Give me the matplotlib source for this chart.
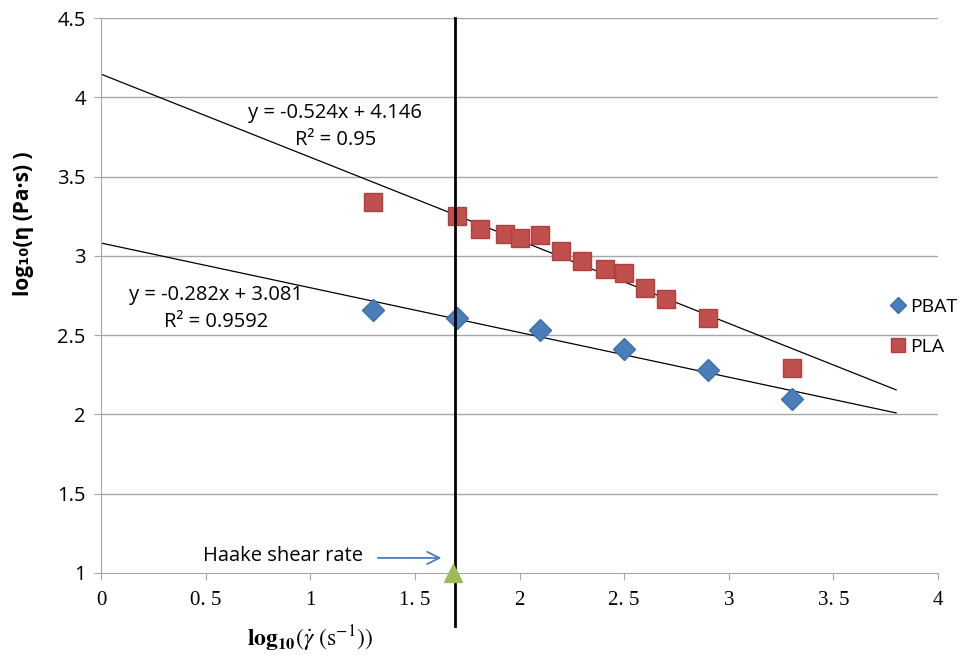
import numpy as np
import matplotlib
matplotlib.use('Agg')
import matplotlib.pyplot as plt

plt.rcParams['mathtext.fontset'] = 'stix'

# data
pbat_x = [1.3, 1.7, 2.1, 2.5, 2.9, 3.3]
pbat_y = [2.66, 2.61, 2.53, 2.41, 2.28, 2.10]

pla_x = [1.3, 1.7, 1.81, 1.93, 2.0, 2.1, 2.2, 2.3, 2.41, 2.5, 2.6, 2.7, 2.9, 3.3]
pla_y = [3.34, 3.25, 3.17, 3.14, 3.11, 3.13, 3.03, 2.97, 2.92, 2.89, 2.80, 2.73, 2.61, 2.29]

# linear fits shown on the chart
pla_fit = (-0.524, 4.146)
pbat_fit = (-0.282, 3.081)
fit_x_end = 3.8

haake_x = 1.68
vline_x = 1.69

x_ticks = [0, 0.5, 1, 1.5, 2, 2.5, 3, 3.5, 4]
x_tick_labels = ['0', '0. 5', '1', '1. 5', '2', '2. 5', '3', '3. 5', '4']
y_ticks = [1, 1.5, 2, 2.5, 3, 3.5, 4, 4.5]
y_tick_labels = ['1', '1.5', '2', '2.5', '3', '3.5', '4', '4.5']

sans = ['Open Sans', 'DejaVu Sans']

fig = plt.figure(figsize=(9.68, 6.57), dpi=100)
ax = fig.add_axes([101 / 968, 1 - 573 / 657, (938 - 101) / 968, (573 - 18) / 657])

ax.set_xlim(0, 4)
ax.set_ylim(1, 4.5)

# gridlines like excel
for yv in y_ticks[1:]:
    ax.axhline(yv, color='#a6a6a6', lw=1.0, zorder=0)

for s in ['top', 'right']:
    ax.spines[s].set_visible(False)
ax.spines['left'].set_color('#a6a6a6')
ax.spines['bottom'].set_color('#a6a6a6')
ax.tick_params(axis='both', color='#a6a6a6', length=5, direction='out')

ax.set_xticks(x_ticks)
ax.set_xticklabels(x_tick_labels, fontfamily='Liberation Serif', fontsize=15)
ax.set_yticks(y_ticks)
ax.set_yticklabels(y_tick_labels, fontfamily=sans, fontsize=14.5)
ax.tick_params(axis='x', pad=8)
ax.tick_params(axis='y', pad=6)

# trend lines
fx = np.array([0, fit_x_end])
ax.plot(fx, pla_fit[0] * fx + pla_fit[1], color='black', lw=0.9, zorder=2)
ax.plot(fx, pbat_fit[0] * fx + pbat_fit[1], color='black', lw=0.9, zorder=2)

# data
ax.plot(pbat_x, pbat_y, linestyle='none', marker='D', markersize=11,
        color='#4a7ebb', markeredgecolor='#3f6fa8', label='PBAT', zorder=3)
ax.plot(pla_x, pla_y, linestyle='none', marker='s', markersize=13.5,
        color='#c0504d', markeredgecolor='#b0403d', label='PLA', zorder=3)

# haake shear rate
ax.axvline(vline_x, ymin=-0.095, ymax=1.0, color='black', lw=2, clip_on=False, zorder=4)
ax.plot([haake_x], [1.0], marker='^', markersize=13, color='#9bbb59',
        clip_on=False, zorder=5)
ax.annotate('', xy=(1.64, 1.095), xytext=(1.31, 1.095),
            arrowprops=dict(arrowstyle='->', color='#4a7ebb', lw=1.3,
                            mutation_scale=22))
ax.text(1.25, 1.11, 'Haake shear rate', ha='right', va='center',
        fontfamily=sans, fontsize=14.5)

# equations
ax.text(1.12, 3.90, 'y = -0.524x + 4.146', ha='center', va='center',
        fontfamily=sans, fontsize=14.5)
ax.text(1.12, 3.73, 'R² = 0.95', ha='center', va='center',
        fontfamily=sans, fontsize=14.5)
ax.text(0.55, 2.755, 'y = -0.282x + 3.081', ha='center', va='center',
        fontfamily=sans, fontsize=14.5)
ax.text(0.55, 2.585, 'R² = 0.9592', ha='center', va='center',
        fontfamily=sans, fontsize=14.5)

# axis labels
fig.text(24 / 968, 1 - 224 / 657, 'log₁₀(η (Pa·s) )', rotation=90,
         ha='center', va='center', fontfamily=sans, fontweight='bold',
         fontsize=15)
fig.text(310 / 968, 1 - 639 / 657,
         r'$\mathbf{log_{10}}(\dot{\gamma}\ (\mathrm{s^{-1}}))$',
         ha='center', va='center', fontsize=17)

fig.legend(loc='center left', bbox_to_anchor=(871 / 968, 1 - 327 / 657),
           frameon=False, handletextpad=0.1, labelspacing=1.1,
           handlelength=1.0, markerscale=0.75,
           prop={'family': sans, 'size': 14})

fig.savefig('out.png', dpi=100)
